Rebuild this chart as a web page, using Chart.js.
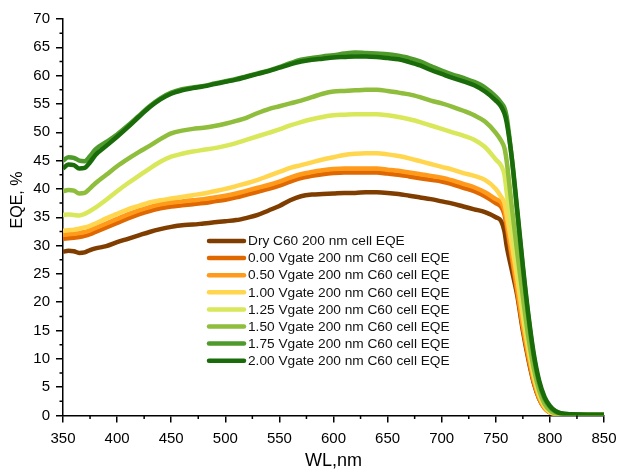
<!DOCTYPE html>
<html><head><meta charset="utf-8">
<script src="https://cdn.jsdelivr.net/npm/chart.js@4/dist/chart.umd.min.js"></script>
<style>html,body{margin:0;padding:0;background:#fff}#wrap{width:619px;height:470px}</style>
</head><body><div id="wrap"><canvas id="c" width="619" height="470"></canvas></div>
<script>
const wavelengths = [350,355,360,365,370,375,380,390,400,410,420,430,440,450,460,470,480,490,500,510,520,530,540,550,560,570,580,590,600,610,620,630,640,650,660,670,680,690,700,710,720,730,740,750,755,758,760,765,770,775,780,785,790,795,800,805,810,820,835,850];

const eqeDry  = [28.9,29.1,29.0,28.7,28.8,29.2,29.5,29.9,30.6,31.2,31.8,32.4,32.9,33.3,33.6,33.7,33.9,34.1,34.3,34.5,34.9,35.4,36.2,37.0,38.0,38.7,39.0,39.1,39.2,39.3,39.3,39.4,39.4,39.3,39.1,38.8,38.5,38.2,37.8,37.4,36.9,36.4,35.9,35.0,34.3,32.5,30.0,25.5,21.0,15.0,10.0,5.8,3.0,1.4,0.6,0.3,0.15,0.1,0.1,0.1];
const eqeV000 = [31.2,31.3,31.4,31.5,31.7,32.0,32.4,33.2,34.0,34.8,35.5,36.1,36.6,36.9,37.1,37.3,37.5,37.8,38.1,38.5,39.0,39.5,40.0,40.6,41.3,41.9,42.3,42.6,42.8,42.9,42.9,42.9,42.9,42.7,42.5,42.2,41.9,41.6,41.3,40.8,40.2,39.6,38.7,37.5,36.8,35.5,33.5,27.5,21.5,15.5,10.3,6.0,3.0,1.3,0.5,0.2,0.1,0.05,0.05,0.05];
const eqeV050 = [31.9,32.0,32.1,32.2,32.4,32.7,33.1,33.9,34.7,35.5,36.2,36.8,37.3,37.6,37.8,38.0,38.2,38.5,38.8,39.2,39.7,40.2,40.7,41.3,42.0,42.6,43.0,43.3,43.5,43.6,43.6,43.6,43.6,43.4,43.2,42.9,42.6,42.3,42.0,41.5,40.9,40.3,39.4,38.2,37.6,36.3,34.2,28.2,22.2,16.0,10.8,6.3,3.2,1.4,0.6,0.25,0.1,0.05,0.05,0.05];
const eqeV100 = [32.6,32.7,32.8,33.0,33.2,33.5,33.9,34.8,35.6,36.4,37.0,37.6,38.0,38.3,38.6,38.9,39.2,39.6,40.0,40.5,41.0,41.6,42.3,43.0,43.7,44.2,44.7,45.2,45.6,46.0,46.2,46.3,46.3,46.1,45.8,45.4,44.9,44.4,43.9,43.4,42.8,42.3,41.6,40.0,38.6,37.5,35.5,30.0,24.0,17.5,11.8,7.0,3.6,1.6,0.6,0.2,0.1,0.05,0.05,0.05];
const eqeV125 = [35.4,35.5,35.4,35.3,35.6,36.1,36.7,38.1,39.6,41.0,42.3,43.6,44.8,45.7,46.2,46.6,46.9,47.2,47.6,48.1,48.7,49.3,49.9,50.5,51.2,51.8,52.3,52.7,53.0,53.1,53.2,53.2,53.2,53.0,52.7,52.3,51.8,51.2,50.6,50.0,49.4,48.7,47.4,45.2,44.1,42.5,39.5,32.5,26.0,19.0,12.8,7.6,4.0,1.9,0.8,0.3,0.15,0.1,0.1,0.1];
const eqeV150 = [39.6,39.8,39.7,39.2,39.3,40.1,41.0,42.5,44.0,45.3,46.5,47.6,48.8,49.8,50.3,50.6,50.8,51.1,51.5,52.0,52.6,53.4,54.1,54.6,55.1,55.6,56.2,56.8,57.2,57.3,57.4,57.5,57.5,57.3,57.0,56.7,56.2,55.6,55.1,54.5,53.8,53.0,51.9,49.9,48.5,47.2,45.0,36.5,28.5,21.0,14.0,8.4,4.5,2.1,0.9,0.35,0.15,0.1,0.1,0.1];
const eqeV175 = [45.0,45.6,45.5,45.0,44.9,45.8,47.0,48.3,49.6,51.2,52.9,54.6,56.0,57.0,57.6,57.9,58.2,58.6,59.0,59.4,59.9,60.4,60.9,61.5,62.2,62.8,63.1,63.4,63.6,63.9,64.1,64.0,63.9,63.8,63.5,63.1,62.5,61.7,60.9,60.2,59.6,58.9,57.9,56.3,55.2,54.3,52.8,45.0,35.5,26.0,17.5,10.5,5.8,3.0,1.5,0.7,0.35,0.2,0.15,0.15];
const eqeV200 = [43.6,44.3,44.2,43.6,43.7,44.7,46.0,47.6,49.2,50.9,52.7,54.4,55.8,56.8,57.4,57.8,58.1,58.5,58.9,59.3,59.8,60.3,60.8,61.4,62.0,62.5,62.8,63.0,63.2,63.3,63.4,63.4,63.3,63.1,62.9,62.4,61.8,61.0,60.3,59.6,59.0,58.3,57.2,55.6,54.5,53.3,51.8,45.2,36.0,26.5,18.0,11.0,6.2,3.3,1.7,0.8,0.4,0.2,0.15,0.15];

const seriesLabels = [
  'Dry C60 200 nm cell EQE',
  '0.00 Vgate 200 nm C60 cell EQE',
  '0.50 Vgate 200 nm C60 cell EQE',
  '1.00 Vgate 200 nm C60 cell EQE',
  '1.25 Vgate 200 nm C60 cell EQE',
  '1.50 Vgate 200 nm C60 cell EQE',
  '1.75 Vgate 200 nm C60 cell EQE',
  '2.00 Vgate 200 nm C60 cell EQE'
];
const seriesValues = [eqeDry, eqeV000, eqeV050, eqeV100, eqeV125, eqeV150, eqeV175, eqeV200];
const seriesColors = ['#803d00','#e06800','#ff9a1a','#ffd64d','#d8e85a','#8fbd3c','#4e9b2b','#1a6b0a'];

const xTicks = [350,400,450,500,550,600,650,700,750,800,850];
const yTicks = [0,5,10,15,20,25,30,35,40,45,50,55,60,65,70];
const xTitle = 'WL,nm';
const yTitleText = 'EQE, %';

const FONT = '"Liberation Sans", Arial, sans-serif';

const datasets = seriesValues.map((vals, i) => ({
  label: seriesLabels[i],
  data: wavelengths.map((w, j) => ({x: w, y: vals[j]})),
  borderColor: seriesColors[i],
  backgroundColor: seriesColors[i],
  borderWidth: 4.5,
  pointRadius: 0,
  fill: false,
  cubicInterpolationMode: 'monotone',
  order: seriesValues.length - i
}));

const minorTicks = {
  id: 'minorTicks',
  afterDraw(chart) {
    const ctx = chart.ctx, a = chart.chartArea;
    const xs = chart.scales.x, ys = chart.scales.y;
    ctx.save();
    ctx.strokeStyle = '#000';
    ctx.lineWidth = 1.5;
    ctx.beginPath();
    for (let i = 0; i < xTicks.length - 1; i++) {
      const px = xs.getPixelForValue((xTicks[i] + xTicks[i + 1]) / 2);
      ctx.moveTo(px, a.bottom); ctx.lineTo(px, a.bottom + 3.5);
    }
    for (let i = 0; i < yTicks.length - 1; i++) {
      const py = ys.getPixelForValue((yTicks[i] + yTicks[i + 1]) / 2);
      ctx.moveTo(a.left, py); ctx.lineTo(a.left - 3.5, py);
    }
    ctx.stroke();
    ctx.restore();
  }
};

const axisTitles = {
  id: 'axisTitles',
  afterDraw(chart) {
    const ctx = chart.ctx, a = chart.chartArea;
    ctx.save();
    ctx.fillStyle = '#000';
    ctx.textAlign = 'center';
    ctx.textBaseline = 'middle';
    ctx.font = '18px ' + FONT;
    ctx.fillText(xTitle, (a.left + a.right) / 2, 461);
    ctx.translate(18, 200);
    ctx.rotate(-Math.PI / 2);
    ctx.font = '16px ' + FONT;
    ctx.fillText(yTitleText, 0, 0);
    ctx.restore();
  }
};

const insideLegend = {
  id: 'insideLegend',
  afterDatasetsDraw(chart) {
    const ctx = chart.ctx, a = chart.chartArea;
    const x0 = a.left + 146, y0 = a.top + 222, dy = 17.1;
    ctx.save();
    ctx.font = '13.7px ' + FONT;
    ctx.textBaseline = 'middle';
    ctx.textAlign = 'left';
    chart.data.datasets.forEach((ds, i) => {
      const y = y0 + i * dy;
      ctx.strokeStyle = ds.borderColor;
      ctx.lineWidth = 4.5;
      ctx.lineCap = 'round';
      ctx.beginPath(); ctx.moveTo(x0, y); ctx.lineTo(x0 + 35, y); ctx.stroke();
      ctx.fillStyle = '#111';
      ctx.fillText(ds.label, x0 + 39, y + 0.5);
    });
    ctx.restore();
  }
};

new Chart(document.getElementById('c'), {
  type: 'line',
  data: { datasets },
  options: {
    responsive: false,
    animation: false,
    layout: { padding: { top: 19, right: 15, left: 0, bottom: 0 } },
    plugins: { legend: { display: false }, tooltip: { enabled: false } },
    scales: {
      x: {
        type: 'linear',
        min: xTicks[0], max: xTicks[xTicks.length - 1],
        afterBuildTicks(s) { s.ticks = xTicks.map(v => ({value: v})); },
        ticks: { color: '#000', font: { size: 15, family: FONT }, padding: 7, maxRotation: 0, autoSkip: false },
        grid: { drawOnChartArea: false, drawTicks: true, tickLength: 7, color: '#000', lineWidth: 1.5 },
        border: { display: true, color: '#000', width: 1.5 },
        afterFit(s) { s.height = 54.5; s.paddingRight = 0; s.paddingLeft = 0; }
      },
      y: {
        type: 'linear',
        min: yTicks[0], max: yTicks[yTicks.length - 1],
        afterBuildTicks(s) { s.ticks = yTicks.map(v => ({value: v})); },
        ticks: { color: '#000', font: { size: 15, family: FONT }, padding: 6, autoSkip: false },
        grid: { drawOnChartArea: false, drawTicks: true, tickLength: 7, color: '#000', lineWidth: 1.5 },
        border: { display: true, color: '#000', width: 1.5 },
        afterFit(s) { s.width = 63; s.paddingTop = 0; s.paddingBottom = 0; }
      }
    }
  },
  plugins: [minorTicks, axisTitles, insideLegend]
});
</script>
</body></html>
